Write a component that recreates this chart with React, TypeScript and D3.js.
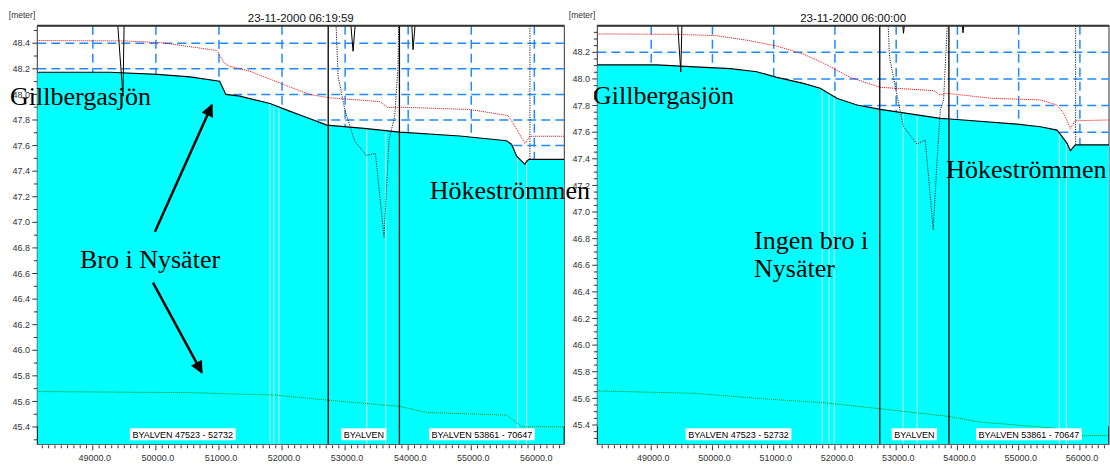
import React from 'react';
import * as d3 from 'd3';

type Pt = [number, number];

// chainage axis (m), shared by both plots
const chainageDomain: Pt = [48120, 56475];
const chainageTicks = [49000, 50000, 51000, 52000, 53000, 54000, 55000, 56000];

const branches = [
  { name: 'BYALVEN 47523 - 52732', from: 47523, to: 52732 },
  { name: 'BYALVEN', from: 52732, to: 53861 },
  { name: 'BYALVEN 53861 - 70647', from: 53861, to: 70647 },
];
const structureChainage = 55930;

// ---- left plot: 23-11-2000 06:19:59 (with bridge)
const leftLevelTicks = [45.4, 45.6, 45.8, 46.0, 46.2, 46.4, 46.6, 46.8, 47.0, 47.2, 47.4, 47.6, 47.8, 48.0, 48.2, 48.4];
const leftWater: Pt[] = [
  [48120, 48.173], [49270, 48.173], [50020, 48.157], [50540, 48.137], [51010, 48.103], [51110, 48.0],
  [51330, 47.986], [51810, 47.929], [52120, 47.869], [52360, 47.825], [52710, 47.76], [53300, 47.735],
  [53870, 47.705], [54820, 47.675], [55560, 47.638], [55640, 47.609], [55720, 47.517], [55850, 47.453],
  [55880, 47.478], [55915, 47.492], [56475, 47.492],
];
const leftRed: Pt[] = [
  [48120, 48.421], [49510, 48.418], [50110, 48.403], [50970, 48.343], [51080, 48.246], [51170, 48.22],
  [51490, 48.181], [52120, 48.059], [52440, 47.999], [52760, 47.973], [53550, 47.944], [53680, 47.897],
  [53870, 47.9], [54980, 47.882], [55580, 47.835], [55660, 47.778], [55850, 47.616], [55930, 47.673],
  [56475, 47.673],
];
const leftGreen: Pt[] = [
  [48120, 45.677], [50540, 45.669], [51890, 45.65], [52730, 45.61], [53870, 45.561], [54290, 45.514],
  [55560, 45.493], [55800, 45.402], [56475, 45.402],
];
const leftBridge: Pt[] = [
  [52852, 48.6], [52889, 48.142], [52995, 47.882], [53101, 47.713], [53153, 47.634], [53336, 47.523],
  [53481, 47.538], [53617, 46.88], [53697, 47.648], [53787, 47.83], [53839, 48.22], [53850, 48.6],
];
const leftDips: Pt[][] = [
  [[49387, 48.6], [49478, 47.986], [49498, 48.6]],
  [[53082, 48.6], [53126, 48.337], [53169, 48.6]],
  [[54052, 48.6], [54077, 48.35], [54119, 48.6]],
];
const leftSections = [51807, 51870, 51949, 53343, 53644, 55735, 55877];

// ---- right plot: 23-11-2000 06:00:00 (no bridge)
const rightLevelTicks = [45.4, 45.6, 45.8, 46.0, 46.2, 46.4, 46.6, 46.8, 47.0, 47.2, 47.4, 47.6, 47.8, 48.0, 48.2];
const rightWater: Pt[] = [
  [48120, 48.105], [49090, 48.105], [49635, 48.092], [50290, 48.077], [50725, 48.054], [51050, 48.012],
  [51485, 47.967], [51760, 47.93], [52030, 47.855], [52360, 47.804], [52740, 47.772], [53720, 47.704],
  [53880, 47.699], [54970, 47.661], [55355, 47.641], [55625, 47.616], [55710, 47.566], [55790, 47.516],
  [55845, 47.461], [55900, 47.491], [55925, 47.504], [56475, 47.504],
];
const rightRed: Pt[] = [
  [48120, 48.338], [49420, 48.335], [50070, 48.325], [50615, 48.287], [51050, 48.247], [51485, 48.187],
  [51815, 48.118], [52250, 48.012], [52740, 47.937], [53610, 47.912], [53720, 47.879], [53830, 47.892],
  [54540, 47.855], [55355, 47.842], [55625, 47.804], [55735, 47.742], [55845, 47.629], [55925, 47.686],
  [56475, 47.692],
];
const rightGreen: Pt[] = [
  [48120, 45.656], [49710, 45.638], [50950, 45.593], [51800, 45.568], [52700, 45.524], [53805, 45.467],
  [53975, 45.455], [54340, 45.423], [55580, 45.377], [55640, 45.365], [55980, 45.32], [56475, 45.32],
];
const rightBridge: Pt[] = [
  [52865, 48.45], [52891, 48.167], [52984, 47.942], [53120, 47.641], [53339, 47.511], [53475, 47.541],
  [53605, 46.865], [53671, 47.416], [53720, 47.767], [53774, 47.842], [53839, 48.45],
];
const rightDips: Pt[][] = [
  [[49427, 48.45], [49483, 48.054], [49504, 48.45]],
  [[53099, 48.45], [53120, 48.343], [53143, 48.45]],
  [[54071, 48.45], [54091, 48.347], [54112, 48.45]],
];
const rightSections = [51792, 51906, 51988, 53115, 53344, 55664, 55779];

// annotations, in chainage / level
const leftNotes = [
  { text: 'Gillbergasjön', at: [47687, 47.918] as Pt },
  { text: 'Bro i Nysäter', at: [48797, 46.646] as Pt },
  { text: 'Hökeströmmen', at: [54340, 47.184] as Pt },
];
const leftArrows = [
  { from: [49985, 46.927] as Pt, to: [50888, 47.918] as Pt },
  { from: [49954, 46.528] as Pt, to: [50729, 45.825] as Pt },
];
const rightNotes = [
  { text: 'Gillbergasjön', at: [48050, 47.809] as Pt },
  { text: 'Ingen bro i', at: [50680, 46.722] as Pt },
  { text: 'Nysäter', at: [50680, 46.512] as Pt },
  { text: 'Hökeströmmen', at: [53818, 47.256] as Pt },
];

const TOP = 25.7;
const BOTTOM = 444.3;
const SANS = '"Liberation Sans", Arial, sans-serif';
const SERIF = '"Liberation Serif", "Times New Roman", serif';
const GRID = '#1f8bff';

const leftCfg = {
  id: 'l', x0: 37.3, x1: 564.3, levels: [45.265, 48.537] as Pt, minor: 0.1, ticks: leftLevelTicks,
  title: '23-11-2000 06:19:59', water: leftWater, red: leftRed, green: leftGreen, bridge: leftBridge,
  dips: leftDips, sections: leftSections, notes: leftNotes, arrows: leftArrows,
};
const rightCfg = {
  id: 'r', x0: 597.3, x1: 1109, levels: [45.255, 48.4] as Pt, minor: 0.05, ticks: rightLevelTicks,
  title: '23-11-2000 06:00:00', water: rightWater, red: rightRed, green: rightGreen, bridge: rightBridge,
  dips: rightDips, sections: rightSections, notes: rightNotes, arrows: [] as { from: Pt; to: Pt }[],
};
type Cfg = typeof leftCfg;

let ctx: CanvasRenderingContext2D | null = null;
function textWidth(s: string, font: string) {
  if (!ctx) ctx = document.createElement('canvas').getContext('2d');
  if (!ctx) return s.length * 5;
  ctx.font = font;
  return ctx.measureText(s).width;
}

function scales(cfg: Cfg) {
  const x = d3.scaleLinear().domain(chainageDomain).range([cfg.x0, cfg.x1]);
  const y = d3.scaleLinear().domain(cfg.levels).range([BOTTOM, TOP]);
  return { x, y };
}

function levelAt(data: Pt[], c: number) {
  const i = d3.bisector((d: Pt) => d[0]).left(data, c);
  if (i <= 0) return data[0][1];
  if (i >= data.length) return data[data.length - 1][1];
  const a = data[i - 1], b = data[i];
  return a[1] + ((c - a[0]) / (b[0] - a[0])) * (b[1] - a[1]);
}

function Panel({ cfg }: { cfg: Cfg }) {
  const { x, y } = scales(cfg);
  const line = d3.line<Pt>().x(d => x(d[0])).y(d => y(d[1]));
  const area = d3.area<Pt>().x(d => x(d[0])).y0(BOTTOM).y1(d => y(d[1]));
  const [lo, hi] = cfg.levels;
  const minorY = d3.range(Math.ceil(lo / cfg.minor) * cfg.minor, hi, cfg.minor)
    .filter(v => !cfg.ticks.some(t => Math.abs(t - v) < 1e-6));
  const minorX = d3.range(48200, chainageDomain[1], 100).filter(v => v % 1000 !== 0);
  const clip = `clip-${cfg.id}`;
  const labelFont = `9px ${SANS}`;

  return (
    <g>
      <defs>
        <clipPath id={clip}>
          <rect x={cfg.x0} y={TOP} width={cfg.x1 - cfg.x0} height={BOTTOM - TOP} />
        </clipPath>
      </defs>
      <rect x={cfg.x0} y={TOP} width={cfg.x1 - cfg.x0} height={BOTTOM - TOP} fill="#fff" stroke="#333" strokeWidth={1} />
      <g clipPath={`url(#${clip})`}>
        {cfg.ticks.map(t => (
          <line key={'gy' + t} x1={cfg.x0} x2={cfg.x1} y1={y(t)} y2={y(t)} stroke={GRID} strokeWidth={1.5} strokeDasharray="9,5" />
        ))}
        {chainageTicks.map(t => (
          <line key={'gx' + t} x1={x(t)} x2={x(t)} y1={TOP} y2={BOTTOM} stroke={GRID} strokeWidth={1.5} strokeDasharray="9,5" />
        ))}
        <path d={area(cfg.water) || ''} fill="#00ffff" />
        {cfg.sections.map(c => (
          <line key={'s' + c} x1={x(c)} x2={x(c)} y1={y(levelAt(cfg.water, c))} y2={BOTTOM} stroke="#c8ffff" strokeWidth={1} />
        ))}
        <path d={line(cfg.green) || ''} fill="none" stroke="#0a8a0a" strokeWidth={1} strokeDasharray="1,1" />
        <path d={line(cfg.red) || ''} fill="none" stroke="#ff0000" strokeWidth={1} strokeDasharray="1,1" />
        <path d={line(cfg.water) || ''} fill="none" stroke="#000" strokeWidth={1.2} />
        <path d={line(cfg.bridge) || ''} fill="none" stroke="#222" strokeWidth={1} strokeDasharray="1.2,1.2" />
        {cfg.dips.map((d, i) => (
          <path key={'d' + i} d={line(d) || ''} fill="none" stroke="#000" strokeWidth={1} />
        ))}
        <line x1={x(structureChainage)} x2={x(structureChainage)} y1={TOP} y2={y(levelAt(cfg.water, structureChainage))}
          stroke="#222" strokeWidth={1} strokeDasharray="1.2,1.2" />
        {branches.slice(1).map(b => (
          <line key={'b' + b.from} x1={x(b.from)} x2={x(b.from)} y1={TOP} y2={BOTTOM} stroke="#000" strokeWidth={1.3} />
        ))}
        {[cfg.x0, cfg.x1].map(px => (
          <line key={'e' + px} x1={px} x2={px} y1={BOTTOM - 18} y2={BOTTOM} stroke="#000" strokeWidth={1.3} />
        ))}
        {branches.map(b => {
          const a = x(Math.max(b.from, chainageDomain[0]));
          const e = x(Math.min(b.to, chainageDomain[1]));
          const cx = (a + e) / 2;
          const w = textWidth(b.name, labelFont) + 5;
          return (
            <g key={'lb' + b.name}>
              <rect x={cx - w / 2} y={BOTTOM - 16} width={w} height={12} fill="#fff" />
              <text x={cx} y={BOTTOM - 6.8} textAnchor="middle" fontSize={9} fontFamily={SANS} fill="#000">{b.name}</text>
            </g>
          );
        })}
      </g>
      <line x1={cfg.x0} x2={cfg.x1} y1={TOP} y2={TOP} stroke="#333" strokeWidth={2} />

      {/* level axis */}
      {cfg.ticks.map(t => (
        <g key={'ty' + t}>
          <line x1={cfg.x0 - 5} x2={cfg.x0} y1={y(t)} y2={y(t)} stroke="#333" strokeWidth={1} />
          <text x={cfg.x0 - 7.3} y={y(t)} dy="0.35em" textAnchor="end" fontSize={9} fontFamily={SANS} fill="#333">
            {t.toFixed(1)}
          </text>
        </g>
      ))}
      {minorY.map(t => (
        <line key={'my' + t} x1={cfg.x0 - 3.5} x2={cfg.x0} y1={y(t)} y2={y(t)} stroke="#333" strokeWidth={1} />
      ))}
      {/* chainage axis */}
      {minorX.map(t => (
        <line key={'mx' + t} x1={x(t)} x2={x(t)} y1={BOTTOM + 1} y2={BOTTOM + 4} stroke="#333" strokeWidth={1} />
      ))}
      {chainageTicks.map(t => (
        <g key={'tx' + t}>
          <line x1={x(t)} x2={x(t)} y1={BOTTOM + 1} y2={BOTTOM + 6} stroke="#333" strokeWidth={1} />
          <text x={x(t) + 2} y={BOTTOM + 16.5} textAnchor="middle" fontSize={9} fontFamily={SANS} fill="#333">
            {t.toFixed(1)}
          </text>
        </g>
      ))}
      <text x={cfg.x0 - 28.5} y={17.5} fontSize={8.5} fontFamily={SANS} fill="#333">[meter]</text>
      <text x={(cfg.x0 + cfg.x1) / 2} y={21.5} textAnchor="middle" fontSize={11.5} fontFamily={SANS} fill="#111">
        {cfg.title}
      </text>
    </g>
  );
}

function Notes({ cfg }: { cfg: Cfg }) {
  const { x, y } = scales(cfg);
  const marker = `arrow-${cfg.id}`;
  return (
    <g>
      <defs>
        <marker id={marker} viewBox="0 0 10 10" refX={9} refY={5} markerWidth={5.5} markerHeight={5}
          markerUnits="strokeWidth" orient="auto">
          <path d="M0,0 L10,5 L0,10 z" fill="#000" />
        </marker>
      </defs>
      {cfg.arrows.map((a, i) => (
        <line key={i} x1={x(a.from[0])} y1={y(a.from[1])} x2={x(a.to[0])} y2={y(a.to[1])}
          stroke="#000" strokeWidth={2.5} markerEnd={`url(#${marker})`} />
      ))}
      {cfg.notes.map(n => (
        <text key={n.text} x={x(n.at[0])} y={y(n.at[1])} fontSize={26} fontFamily={SERIF} fill="#000">{n.text}</text>
      ))}
    </g>
  );
}

export default function App() {
  return (
    <svg width={1110} height={465} style={{ position: 'absolute', left: 0, top: 0, background: '#fff' }}>
      <Panel cfg={leftCfg} />
      <Panel cfg={rightCfg} />
      <Notes cfg={leftCfg} />
      <Notes cfg={rightCfg} />
    </svg>
  );
}
